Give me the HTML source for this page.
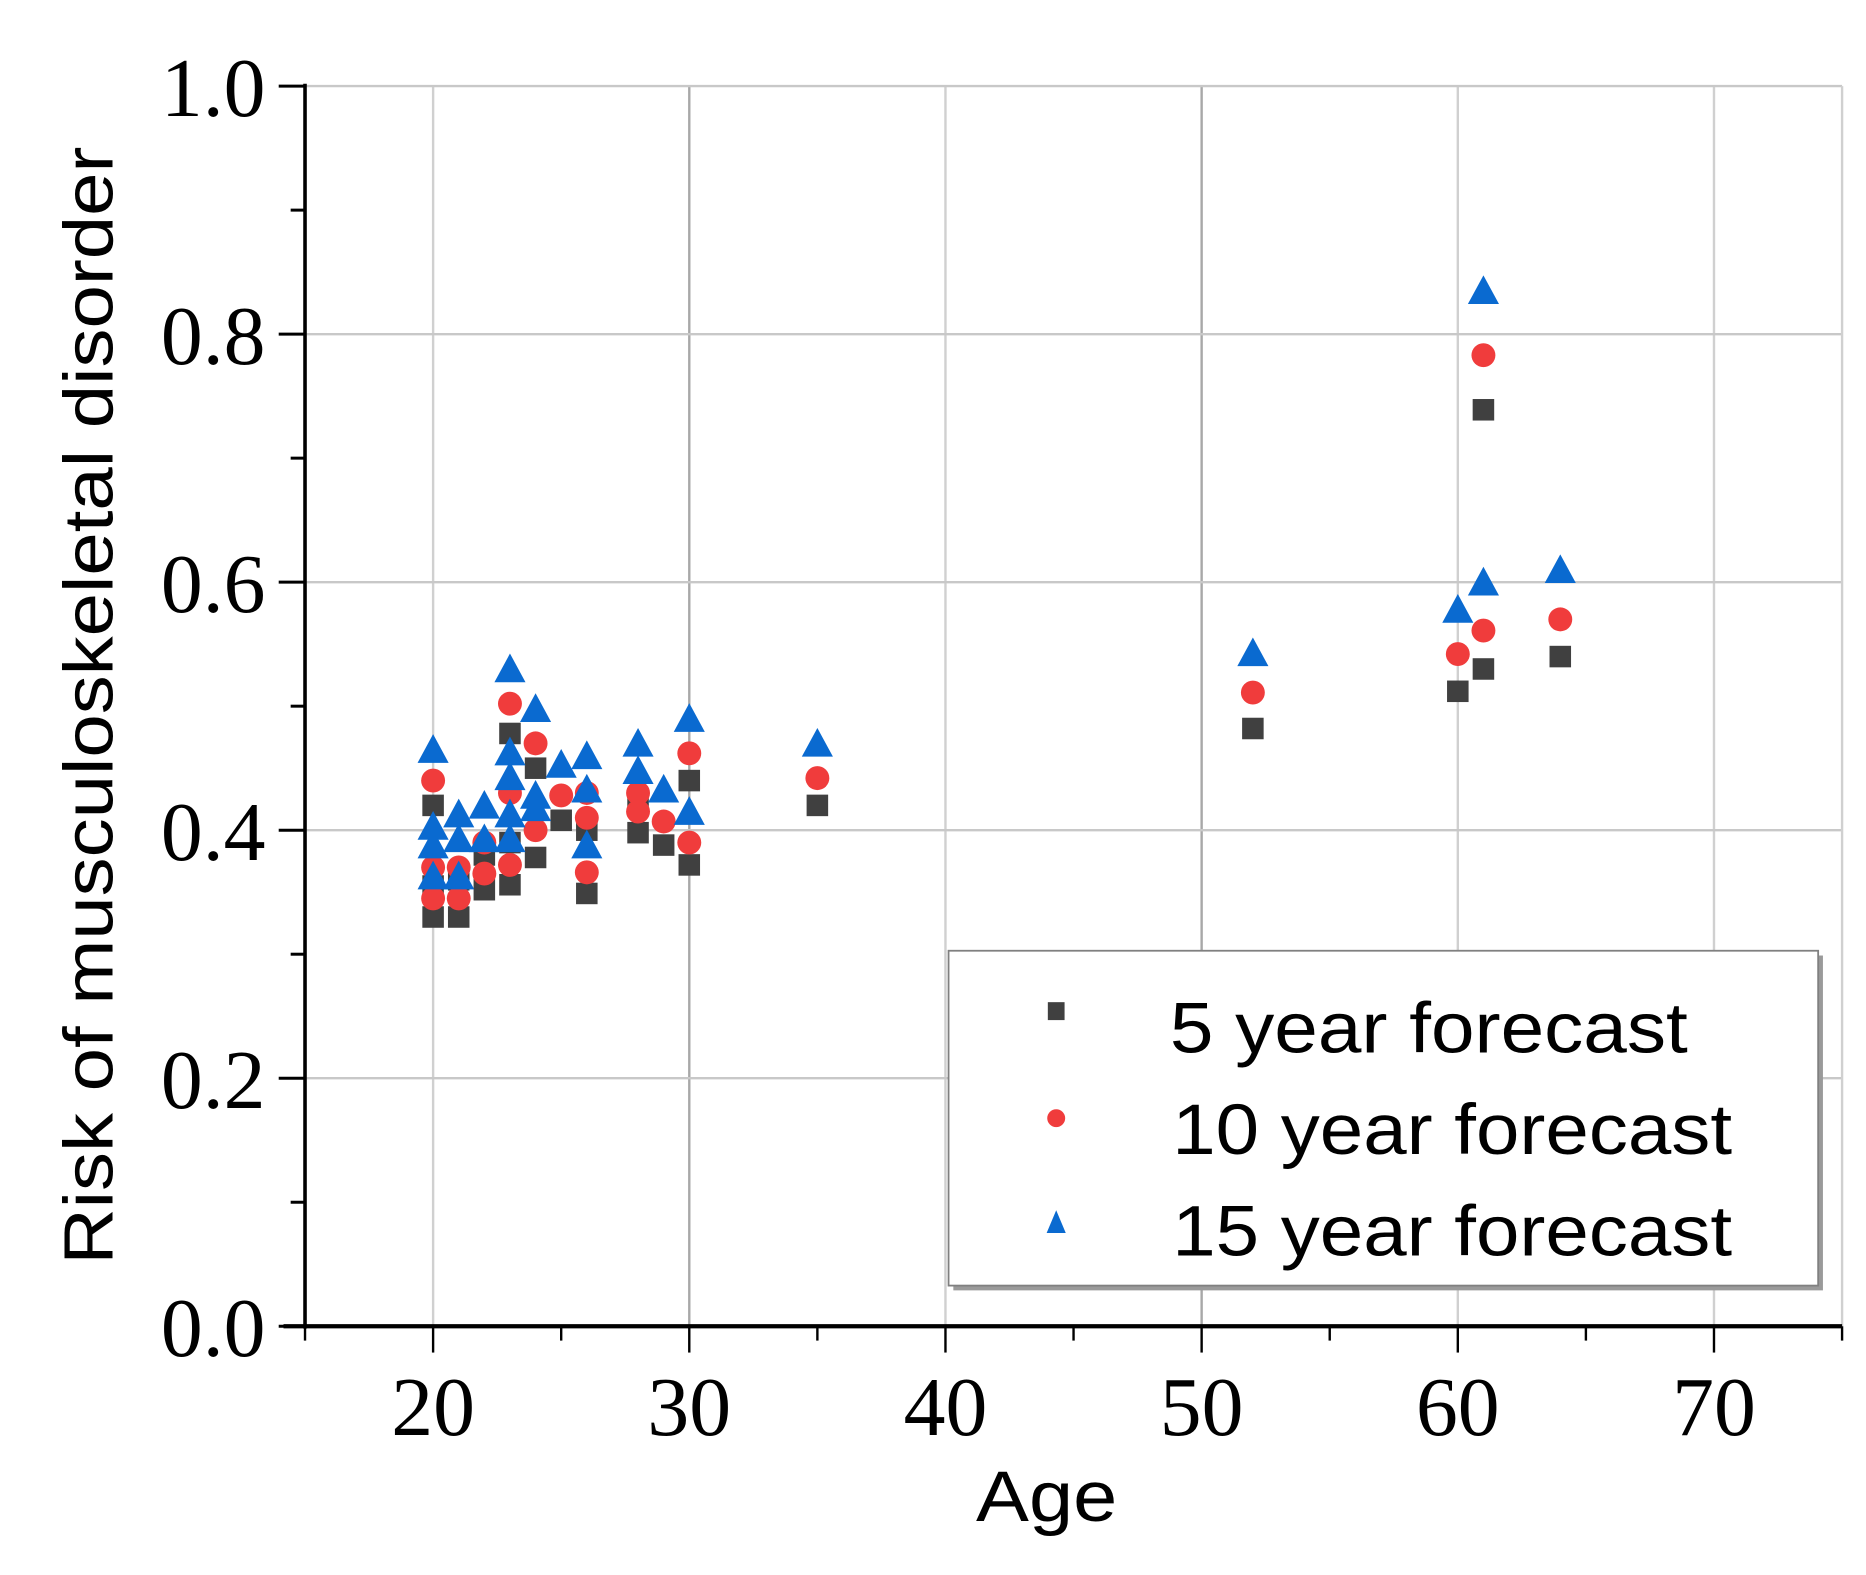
<!DOCTYPE html>
<html><head><meta charset="utf-8"><style>
html,body{margin:0;padding:0;background:#fff;}
svg{display:block;}
</style></head><body>
<svg id="chart" width="1866" height="1575" viewBox="0 0 1560 1317" preserveAspectRatio="none" xmlns="http://www.w3.org/2000/svg">
<g id="grid"></g>
<g id="axes"></g>
<g id="marks"></g>
<text x="875" y="1272" font-family="Liberation Sans, sans-serif" font-size="60" text-anchor="middle" textLength="118" lengthAdjust="spacingAndGlyphs">Age</text>
<text transform="translate(94,590) rotate(-90)" font-family="Liberation Sans, sans-serif" font-size="58" text-anchor="middle" textLength="935" lengthAdjust="spacingAndGlyphs">Risk of musculoskeletal disorder</text>
<g>
<rect x="797" y="799" width="727" height="280" fill="#9a9a9a"/>
<rect x="793" y="795" width="727" height="280" fill="#fff" stroke="#808080" stroke-width="1.5"/>
<rect x="876" y="838" width="14" height="15" fill="#404040"/>
<circle cx="883" cy="935" r="7.5" fill="#f03c3c"/>
<polygon points="883,1012 875,1031 891,1031" fill="#0a6ad0"/>
<text x="978" y="880" font-family="Liberation Sans, sans-serif" font-size="60" textLength="433" lengthAdjust="spacingAndGlyphs">5 year forecast</text>
<text x="980" y="965" font-family="Liberation Sans, sans-serif" font-size="60" textLength="468" lengthAdjust="spacingAndGlyphs">10 year forecast</text>
<text x="980" y="1050" font-family="Liberation Sans, sans-serif" font-size="60" textLength="468" lengthAdjust="spacingAndGlyphs">15 year forecast</text>
</g>
</svg>
<script>
const xTicks = [20, 30, 40, 50, 60, 70];
const yTicks = [0.0, 0.2, 0.4, 0.6, 0.8, 1.0];
const yTickLabels = ["0.0", "0.2", "0.4", "0.6", "0.8", "1.0"];
const ages5 = [20,20,20,21,21,22,22,23,23,23,24,24,25,26,26,28,28,29,30,30,35,52,60,61,61,64];
const risk5 = [0.42,0.33,0.355,0.33,0.36,0.352,0.38,0.478,0.356,0.39,0.45,0.378,0.408,0.349,0.40,0.398,0.42,0.388,0.44,0.372,0.42,0.482,0.512,0.53,0.739,0.54];
const ages10 = [20,20,20,21,21,22,22,23,23,23,24,24,25,26,26,26,28,28,29,30,30,35,52,60,61,61,64];
const risk10 = [0.44,0.345,0.37,0.345,0.37,0.365,0.39,0.502,0.372,0.43,0.47,0.40,0.428,0.366,0.41,0.43,0.415,0.43,0.407,0.462,0.39,0.442,0.511,0.542,0.561,0.783,0.57];
const ages15 = [20,20,20,20,21,21,21,22,22,23,23,23,23,23,24,24,24,25,26,26,26,28,28,29,30,30,35,52,60,61,61,64];
const risk15 = [0.462,0.40,0.385,0.36,0.41,0.39,0.36,0.417,0.39,0.527,0.46,0.44,0.41,0.39,0.495,0.425,0.415,0.45,0.457,0.43,0.385,0.467,0.445,0.43,0.487,0.412,0.467,0.54,0.575,0.597,0.832,0.607];

const NS = "http://www.w3.org/2000/svg";
const X0 = 255, X1 = 1540, Y0 = 1109, Y1 = 72;
const xMin = 15, xMax = 75;
function sx(v){ return X0 + (v - xMin) / (xMax - xMin) * (X1 - X0); }
function sy(v){ return Y0 - v * (Y0 - Y1); }
function mk(tag, attrs, parent){
  const e = document.createElementNS(NS, tag);
  for (const k in attrs) e.setAttribute(k, attrs[k]);
  parent.appendChild(e);
  return e;
}
const grid = document.getElementById('grid');
const axes = document.getElementById('axes');
const marks = document.getElementById('marks');

xTicks.forEach(t => {
  const l = mk('line', {x1: sx(t), x2: sx(t), y1: Y1, y2: Y0, stroke: (t===30||t===50)?'#a8a8a8':'#d0d0d0', 'stroke-width': 2}, grid);
  
  
});
yTicks.forEach(t => {
  if (t === 0) return;
  const l = mk('line', {x1: X0, x2: X1, y1: sy(t), y2: sy(t), stroke: '#c8c8c8', 'stroke-width': 2}, grid);
  
  
});
const rl = mk('line', {x1: X1, x2: X1, y1: Y1, y2: Y0, stroke: '#d0d0d0', 'stroke-width': 2}, grid);



const ya = mk('line', {x1: X0, x2: X0, y1: Y1-2, y2: Y0+2, stroke: '#000', 'stroke-width': 3}, axes);


const xa = mk('line', {x1: X0-18, x2: X1, y1: Y0, y2: Y0, stroke: '#000', 'stroke-width': 3.5}, axes);



for (let v = 0; v <= 1.0001; v += 0.1) {
  const major = Math.round(v*10) % 2 === 0;
  const t = mk('line', {x1: X0 - (major ? 22 : 12), x2: X0, y1: sy(v), y2: sy(v), stroke: '#000', 'stroke-width': 2.5}, axes);
  
  
}
yTicks.forEach((t, i) => {
  const tx = mk('text', {x: 222, y: sy(t) + 25, 'text-anchor': 'end', 'font-family': 'Liberation Serif, serif', 'font-size': 70}, axes);
  tx.textContent = yTickLabels[i];
  
  
});
for (let v = 15; v <= 75; v += 5) {
  const major = v % 10 === 0;
  const t = mk('line', {x1: sx(v), x2: sx(v), y1: Y0, y2: Y0 + (major ? 22 : 12), stroke: '#000', 'stroke-width': 2}, axes);
  
  
}
xTicks.forEach(t => {
  const tx = mk('text', {x: sx(t), y: 1200, 'text-anchor': 'middle', 'font-family': 'Liberation Serif, serif', 'font-size': 70}, axes);
  tx.textContent = String(t);
  
  
});

ages5.forEach((a, i) => {
  const x = sx(a), y = sy(risk5[i]);
  const r = mk('rect', {x: x-9, y: y-9, width: 18, height: 18, fill: '#404040'}, marks);
  
  
});
ages10.forEach((a, i) => {
  const c = mk('circle', {cx: sx(a), cy: sy(risk10[i]), r: 10, fill: '#f03c3c'}, marks);
  
  
});
ages15.forEach((a, i) => {
  const x = sx(a), y = sy(risk15[i]);
  const p = mk('polygon', {points: `${x},${y-16} ${x-13},${y+8} ${x+13},${y+8}`, fill: '#0a6ad0'}, marks);
  
  
});
</script>
</body></html>
